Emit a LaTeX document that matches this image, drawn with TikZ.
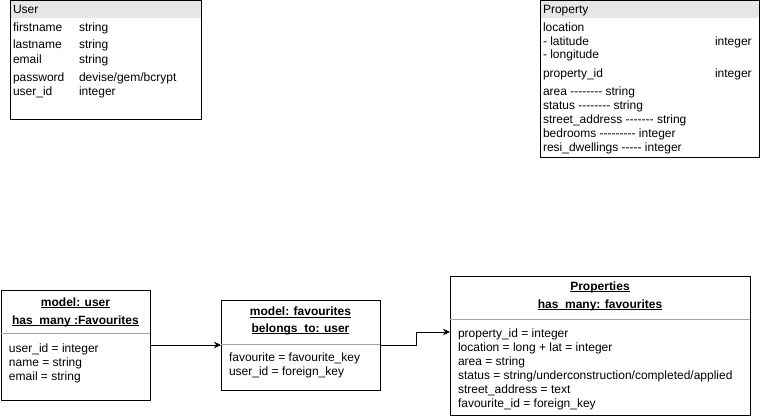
\documentclass[tikz,border=0pt]{standalone}
\usepackage{fontspec}
\setmainfont{Liberation Sans}[Ligatures=TeXOff]
\usetikzlibrary{arrows.meta}
\definecolor{hdrgray}{HTML}{E6E6E6}
\definecolor{sepgray}{HTML}{A6A6A6}
\newcommand{\myul}[1]{\underline{\smash{#1}}}
\begin{document}
\begin{tikzpicture}[x=1pt,y=-1pt,
  every node/.style={inner sep=0pt,outer sep=0pt,font=\fontsize{12}{14}\selectfont},
  box/.style={draw=black,line width=1pt,anchor=north west},
  hdr/.style={fill=hdrgray,anchor=north west},
  txt/.style={anchor=base west},
  ctxt/.style={anchor=base,font=\fontsize{12}{14}\selectfont\bfseries},
  sep/.style={draw=sepgray,line width=1pt},
  conn/.style={draw=black,line width=1pt,-{Stealth[length=7pt,width=6.5pt]}}]
\useasboundingbox (0,0) rectangle (761,417);

% ---------- User (top left)
\node[hdr,minimum width=191pt,minimum height=17pt] (userhdr) at (10,1) {};
\node[box,minimum width=191pt,minimum height=119pt] (user) at (10,1) {};
\node[txt] (uname) at (13,14) {User};
\node[txt] (u1) at (13,32) {firstname};
\node[txt] (u1t) at (79,32) {string};
\node[txt] (u2) at (13,49) {lastname};
\node[txt] (u2t) at (79,49) {string};
\node[txt] (u3) at (13,64) {email};
\node[txt] (u3t) at (79,64) {string};
\node[txt] (u4) at (13,82) {password};
\node[txt] (u4t) at (79,82) {devise/gem/bcrypt};
\node[txt] (u5) at (13,96) {user\_id};
\node[txt] (u5t) at (79,96) {integer};

% ---------- Property (top right)
\node[hdr,minimum width=219pt,minimum height=17pt] (prophdr) at (540,1) {};
\node[box,minimum width=219pt,minimum height=157pt] (prop) at (540,1) {};
\node[txt] (pname) at (543,14) {Property};
\node[txt] (p1) at (543,32) {location};
\node[txt] (p2) at (543,46) {- latitude};
\node[txt] (p2t) at (715,46) {integer};
\node[txt] (p3) at (543,59) {- longitude};
\node[txt] (p4) at (543,78) {property\_id};
\node[txt] (p4t) at (715,78) {integer};
\node[txt] (p5) at (543,96) {area -------- string};
\node[txt] (p6) at (543,110) {status -------- string};
\node[txt] (p7) at (543,124) {street\_address ------- string};
\node[txt] (p8) at (543,138) {bedrooms --------- integer};
\node[txt] (p9) at (543,152) {resi\_dwellings ----- integer};

% ---------- model: user
\node[box,minimum width=149pt,minimum height=110pt] (umodel) at (1,290) {};
\draw[sep] (1,333) -- (150,333);
\node[ctxt] (um1) at (75.5,306) {\myul{model: user}};
\node[ctxt] (um2) at (75.5,324) {\myul{has\_many :Favourites}};
\node[txt] (um3) at (9,352) {user\_id = integer};
\node[txt] (um4) at (9,366) {name = string};
\node[txt] (um5) at (9,380) {email = string};

% ---------- model: favourites
\node[box,minimum width=159pt,minimum height=90pt] (fav) at (221,300) {};
\draw[sep] (221,344) -- (380,344);
\node[ctxt] (f1) at (300.5,315.5) {\myul{model: favourites}};
\node[ctxt] (f2) at (300.5,332) {\myul{belongs\_to: user}};
\node[txt] (f3) at (229,361) {favourite = favourite\_key};
\node[txt] (f4) at (229,375) {user\_id = foreign\_key};

% ---------- Properties
\node[box,minimum width=300pt,minimum height=139pt] (props) at (450,276) {};
\draw[sep] (450,319) -- (750,319);
\node[ctxt] (ps1) at (600,290) {\myul{Properties}};
\node[ctxt] (ps2) at (600,308) {\myul{has\_many: favourites}};
\node[txt] (ps3) at (458,337) {property\_id = integer};
\node[txt] (ps4) at (458,351) {location = long + lat = integer};
\node[txt] (ps5) at (458,365) {area = string};
\node[txt] (ps6) at (458,379) {status = string/underconstruction/completed/applied};
\node[txt] (ps7) at (458,393) {street\_address = text};
\node[txt] (ps8) at (458,407) {favourite\_id = foreign\_key};

% ---------- connectors
\draw[conn] (umodel.east) -- (fav.west |- umodel.east);
\coordinate (bend) at (416,332);
\draw[conn] (fav.east |- umodel.east) -| (bend) -- (props.west |- bend);
\end{tikzpicture}
\end{document}
